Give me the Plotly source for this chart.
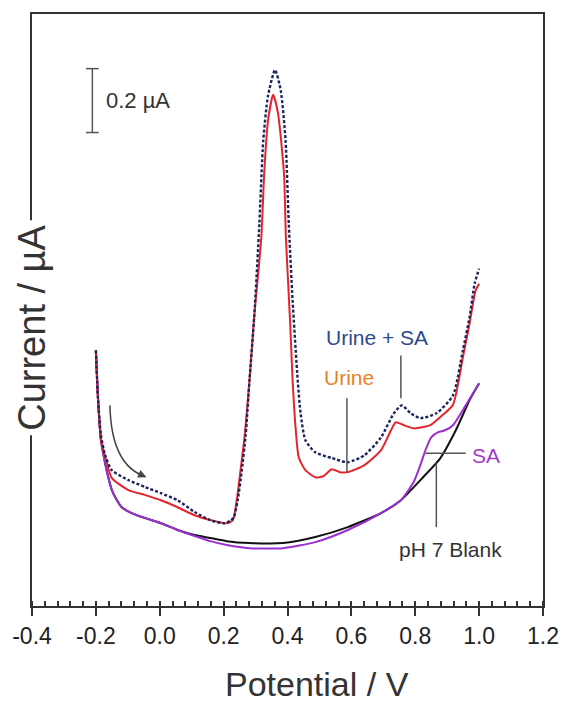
import plotly.graph_objects as go

# ---------------- data (Potential in V, Current in µA, arbitrary offset) ----------------
blank_v = [-0.200, -0.193, -0.184, -0.171, -0.159, -0.150, -0.134, -0.119, -0.088, -0.045,
           0.004, 0.056, 0.109, 0.158, 0.210, 0.281, 0.386, 0.487, 0.589, 0.693,
           0.755, 0.816, 0.878, 0.927, 0.970, 1.000]
blank_i = [0.800, 0.644, 0.519, 0.447, 0.394, 0.363, 0.331, 0.309, 0.291, 0.275,
           0.259, 0.238, 0.222, 0.213, 0.203, 0.197, 0.197, 0.216, 0.247, 0.291,
           0.331, 0.394, 0.462, 0.550, 0.644, 0.697]

sa_v = [-0.200, -0.193, -0.184, -0.171, -0.159, -0.150, -0.134, -0.119, -0.088, -0.045,
        0.004, 0.056, 0.109, 0.158, 0.210, 0.281, 0.386, 0.487, 0.589, 0.693,
        0.755, 0.795, 0.816, 0.832, 0.850, 0.872, 0.893, 0.918, 0.958, 1.000]
sa_i = [0.800, 0.644, 0.519, 0.447, 0.394, 0.363, 0.331, 0.309, 0.291, 0.275,
        0.259, 0.238, 0.219, 0.203, 0.191, 0.181, 0.181, 0.200, 0.238, 0.291,
        0.331, 0.388, 0.441, 0.488, 0.528, 0.544, 0.550, 0.566, 0.628, 0.697]

urine_v = [-0.200, -0.193, -0.184, -0.168, -0.150, -0.098, -0.045, 0.004, 0.056, 0.109,
           0.158, 0.210, 0.229, 0.241, 0.253, 0.266, 0.281, 0.296, 0.318, 0.327,
           0.339, 0.355, 0.370, 0.389, 0.395, 0.408, 0.416, 0.426, 0.435, 0.456,
           0.487, 0.512, 0.539, 0.564, 0.589, 0.641, 0.693, 0.724, 0.739, 0.764,
           0.795, 0.847, 0.878, 0.918, 0.949, 0.970, 0.989, 1.000]
urine_i = [0.800, 0.644, 0.519, 0.456, 0.400, 0.363, 0.347, 0.331, 0.309, 0.284,
           0.269, 0.259, 0.269, 0.331, 0.425, 0.534, 0.706, 0.909, 1.153, 1.353,
           1.519, 1.600, 1.544, 1.353, 1.153, 0.894, 0.706, 0.550, 0.466, 0.425,
           0.403, 0.406, 0.428, 0.419, 0.419, 0.441, 0.488, 0.550, 0.575, 0.566,
           0.556, 0.566, 0.591, 0.630, 0.778, 0.884, 0.988, 1.009]

urine_sa_v = [-0.200, -0.193, -0.184, -0.171, -0.150, -0.098, -0.045, 0.004, 0.056, 0.109,
              0.158, 0.201, 0.220, 0.232, 0.244, 0.257, 0.269, 0.281, 0.296, 0.312,
              0.324, 0.339, 0.361, 0.379, 0.394, 0.404, 0.416, 0.432, 0.441, 0.456,
              0.487, 0.539, 0.589, 0.641, 0.693, 0.733, 0.758, 0.786, 0.816, 0.866,
              0.918, 0.949, 0.970, 0.986, 1.000]
urine_sa_i = [0.800, 0.644, 0.534, 0.472, 0.425, 0.394, 0.372, 0.353, 0.331, 0.294,
              0.269, 0.259, 0.266, 0.278, 0.331, 0.425, 0.534, 0.706, 0.909, 1.197,
              1.456, 1.597, 1.678, 1.613, 1.456, 1.197, 0.956, 0.706, 0.603, 0.519,
              0.481, 0.463, 0.450, 0.472, 0.528, 0.603, 0.628, 0.603, 0.588, 0.603,
              0.659, 0.800, 0.903, 1.009, 1.056]

tick_vals = [-0.4, -0.2, 0.0, 0.2, 0.4, 0.6, 0.8, 1.0, 1.2]
tick_text = ["-0.4", "-0.2", "0.0", "0.2", "0.4", "0.6", "0.8", "1.0", "1.2"]

# label positions (V, µA)
labels = [
    ("Urine + SA", 0.681, 0.841, "#2b4b8c"),
    ("Urine", 0.592, 0.716, "#e8822a"),
    ("SA", 1.020, 0.472, "#a23cc8"),
    ("pH 7 Blank", 0.909, 0.178, "#333333"),
]
leaders = [  # x0, y0, x1, y1
    (0.755, 0.784, 0.755, 0.650),
    (0.586, 0.650, 0.586, 0.419),
    (0.832, 0.478, 0.958, 0.478),
    (0.866, 0.447, 0.866, 0.247),
]
scale_x = -0.211
scale_y0, scale_y1 = 1.482, 1.682

FONT = "Liberation Sans, Arial, sans-serif"

fig = go.Figure()
fig.add_trace(go.Scatter(x=blank_v, y=blank_i, mode="lines",
                         line=dict(color="#111111", width=2, shape="spline", smoothing=0.6)))
fig.add_trace(go.Scatter(x=sa_v, y=sa_i, mode="lines",
                         line=dict(color="#9b30d0", width=2, shape="spline", smoothing=0.6)))
fig.add_trace(go.Scatter(x=urine_v, y=urine_i, mode="lines",
                         line=dict(color="#e3262c", width=2, shape="spline", smoothing=0.6)))
fig.add_trace(go.Scatter(x=urine_sa_v, y=urine_sa_i, mode="lines",
                         line=dict(color="#1c2560", width=2.4, shape="spline", smoothing=0.6,
                                   dash="3px,2px")))

shapes = []
for x0, y0, x1, y1 in leaders:
    shapes.append(dict(type="line", xref="x", yref="y", x0=x0, y0=y0, x1=x1, y1=y1,
                       line=dict(color="#555555", width=1.5)))
# scale bar
shapes.append(dict(type="line", xref="x", yref="y", x0=scale_x, x1=scale_x,
                   y0=scale_y0, y1=scale_y1, line=dict(color="#555555", width=1.5)))
for yy in (scale_y0, scale_y1):
    shapes.append(dict(type="line", xref="x", yref="y", x0=scale_x - 0.02, x1=scale_x + 0.02,
                       y0=yy, y1=yy, line=dict(color="#555555", width=1.5)))
# curved scan-direction arrow
shapes.append(dict(type="path", xref="x", yref="y",
                   path="M -0.156,0.628 Q -0.152,0.440 -0.045,0.405",
                   line=dict(color="#444444", width=1.5)))

annotations = []
for text, x, y, col in labels:
    annotations.append(dict(x=x, y=y, xref="x", yref="y", text=text, showarrow=False,
                            font=dict(family=FONT, size=21, color=col),
                            xanchor="center", yanchor="middle"))
annotations.append(dict(x=scale_x + 0.036, y=(scale_y0 + scale_y1) / 2, xref="x", yref="y",
                        text="0.2 µA", showarrow=False, xanchor="left", yanchor="middle",
                        font=dict(family=FONT, size=22, color="#333333")))
annotations.append(dict(x=-0.042, y=0.403, ax=-0.075, ay=0.418, xref="x", yref="y",
                        axref="x", ayref="y", text="", showarrow=True, arrowhead=2,
                        arrowsize=1.1, arrowwidth=1.5, arrowcolor="#444444"))
# axis titles
annotations.append(dict(x=0, y=0.47, xref="paper", yref="paper", text="Current / µA",
                        textangle=-90, showarrow=False, xanchor="center", yanchor="middle",
                        bgcolor="white", borderpad=4,
                        font=dict(family=FONT, size=38, color="#333333")))
annotations.append(dict(x=0.5585, y=-0.1315, xref="paper", yref="paper", text="Potential / V",
                        showarrow=False, xanchor="center", yanchor="middle",
                        font=dict(family=FONT, size=34, color="#333333")))

fig.update_layout(
    width=571, height=705,
    margin=dict(l=31, r=19, t=13, b=99),
    paper_bgcolor="white", plot_bgcolor="white",
    showlegend=False,
    shapes=shapes, annotations=annotations,
    xaxis=dict(range=[-0.4, 1.2], tickvals=tick_vals, ticktext=tick_text,
               ticks="outside", ticklen=8, tickwidth=1.5, tickcolor="#333333",
               minor=dict(dtick=0.04, tick0=-0.4, ticks="inside", ticklen=5,
                          tickwidth=1.5, tickcolor="#333333", showgrid=False),
               showline=True, linecolor="#333333", linewidth=2, mirror=True,
               showgrid=False, zeroline=False,
               tickfont=dict(family=FONT, size=23, color="#222222")),
    yaxis=dict(range=[0, 1.853], showticklabels=False, ticks="",
               showline=True, linecolor="#333333", linewidth=2, mirror=True,
               showgrid=False, zeroline=False),
)

fig.write_html("out.html")
